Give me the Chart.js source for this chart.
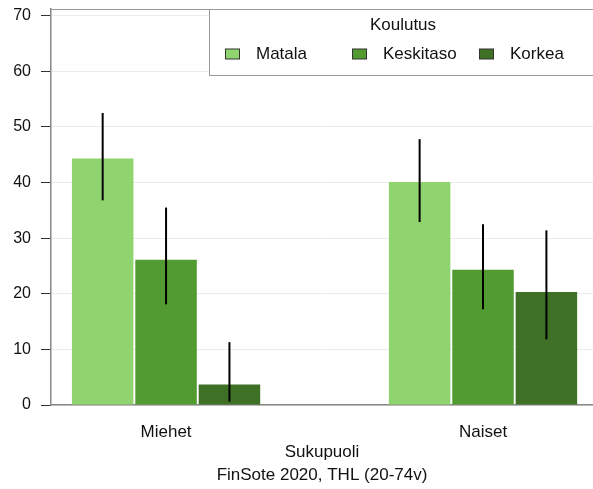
<!DOCTYPE html>
<html>
<head>
<meta charset="utf-8">
<script src="https://cdn.jsdelivr.net/npm/chart.js@4"></script>
<style>
  html, body { margin: 0; padding: 0; background: #fff; overflow: hidden; }
  #wrap { width: 593px; height: 489px; }
</style>
</head>
<body>
<div id="wrap"><canvas id="chart"></canvas></div>
<script>
const categories = ['Miehet', 'Naiset'];
const levels = ['Matala', 'Keskitaso', 'Korkea'];
const matala = [44.3, 40.1];
const keskitaso = [26.1, 24.3];
const korkea = [3.7, 20.3];
const matalaLow = [36.8, 32.9];
const matalaHigh = [52.5, 47.8];
const keskitasoLow = [18.1, 17.2];
const keskitasoHigh = [35.5, 32.5];
const korkeaLow = [0.6, 11.8];
const korkeaHigh = [11.3, 31.4];
const yTicks = [0, 10, 20, 30, 40, 50, 60, 70];

const colors = ['#90d46f', '#529b30', '#3e7126'];
const lows = [matalaLow, keskitasoLow, korkeaLow];
const highs = [matalaHigh, keskitasoHigh, korkeaHigh];
const FONT = 'Liberation Sans, Arial, sans-serif';

function points(values) {
  return values.map((v, i) => ({ x: i + 1, y: v }));
}

const errorBars = {
  id: 'errorBars',
  afterDatasetsDraw(chart) {
    const ctx = chart.ctx;
    const y = chart.scales.y;
    ctx.save();
    ctx.strokeStyle = '#000';
    ctx.lineWidth = 2;
    chart.data.datasets.forEach((ds, d) => {
      chart.getDatasetMeta(d).data.forEach((bar, i) => {
        ctx.beginPath();
        ctx.moveTo(bar.x, y.getPixelForValue(lows[d][i]));
        ctx.lineTo(bar.x, y.getPixelForValue(highs[d][i]));
        ctx.stroke();
      });
    });
    ctx.restore();
  }
};

const frameAndLegend = {
  id: 'frameAndLegend',
  afterDraw(chart) {
    const ctx = chart.ctx;
    const a = chart.chartArea;
    ctx.save();
    // top frame line
    ctx.strokeStyle = '#999';
    ctx.lineWidth = 1;
    ctx.beginPath();
    ctx.moveTo(a.left, a.top + 0.5);
    ctx.lineTo(a.right, a.top + 0.5);
    ctx.stroke();

    // legend box
    const bx = 209.5, by = a.top + 0.5, bw = 400, bh = 66;
    ctx.fillStyle = '#fff';
    ctx.fillRect(bx, by, bw, bh);
    ctx.strokeStyle = '#999';
    ctx.strokeRect(bx, by, bw, bh);

    ctx.fillStyle = '#111';
    ctx.font = '17px ' + FONT;
    ctx.textBaseline = 'middle';
    ctx.textAlign = 'center';
    ctx.fillText('Koulutus', 403, by + 16);

    const starts = [225, 352, 479];
    ctx.textAlign = 'left';
    chart.data.datasets.forEach((ds, d) => {
      const x = starts[d];
      const cy = by + 45;
      ctx.fillStyle = ds.backgroundColor;
      ctx.fillRect(x + 0.5, cy - 5.5, 14, 10);
      ctx.strokeStyle = '#333';
      ctx.strokeRect(x + 0.5, cy - 5.5, 14, 10);
      ctx.fillStyle = '#111';
      ctx.fillText(ds.label, x + 31, cy);
    });
    ctx.restore();
  }
};

const datasets = [matala, keskitaso, korkea].map((vals, d) => ({
  label: levels[d],
  data: points(vals),
  backgroundColor: colors[d],
  borderWidth: 0,
  categoryPercentage: 0.6,
  barPercentage: 0.97
}));

new Chart(document.getElementById('chart'), {
  type: 'bar',
  data: { datasets: datasets },
  plugins: [errorBars, frameAndLegend],
  options: {
    responsive: true,
    maintainAspectRatio: false,
    animation: false,
    layout: { padding: { top: 9, right: 0, left: 0, bottom: 0 } },
    plugins: {
      legend: { display: false },
      tooltip: { enabled: false }
    },
    scales: {
      x: {
        type: 'linear',
        offset: false,
        min: 0.637,
        max: 2.347,
        afterBuildTicks: (scale) => {
          scale.ticks = categories.map((c, i) => ({ value: i + 1 }));
        },
        afterFit: (scale) => { scale.height = 84; },
        grid: { display: false, drawTicks: false },
        border: { display: true, color: '#888', width: 1.5 },
        ticks: {
          padding: 17,
          color: '#111',
          font: { family: FONT, size: 17 },
          callback: (v) => categories[v - 1]
        },
        title: {
          display: true,
          text: ['Sukupuoli', 'FinSote 2020, THL (20-74v)'],
          color: '#111',
          font: { family: FONT, size: 17, lineHeight: 1.35 },
          padding: { top: 0, bottom: 2 }
        }
      },
      y: {
        min: 0,
        max: 71.2,
        afterBuildTicks: (scale) => {
          scale.ticks = yTicks.map(v => ({ value: v }));
        },
        afterFit: (scale) => {
          scale.width = 51;
          scale.paddingTop = 0;
          scale.paddingBottom = 0;
        },
        grid: { color: '#ebebeb', tickColor: '#333', tickLength: 10 },
        border: { display: true, color: '#888', width: 1.5 },
        ticks: {
          padding: 10,
          color: '#111',
          font: { family: FONT, size: 16 }
        }
      }
    }
  }
});
</script>
</body>
</html>
